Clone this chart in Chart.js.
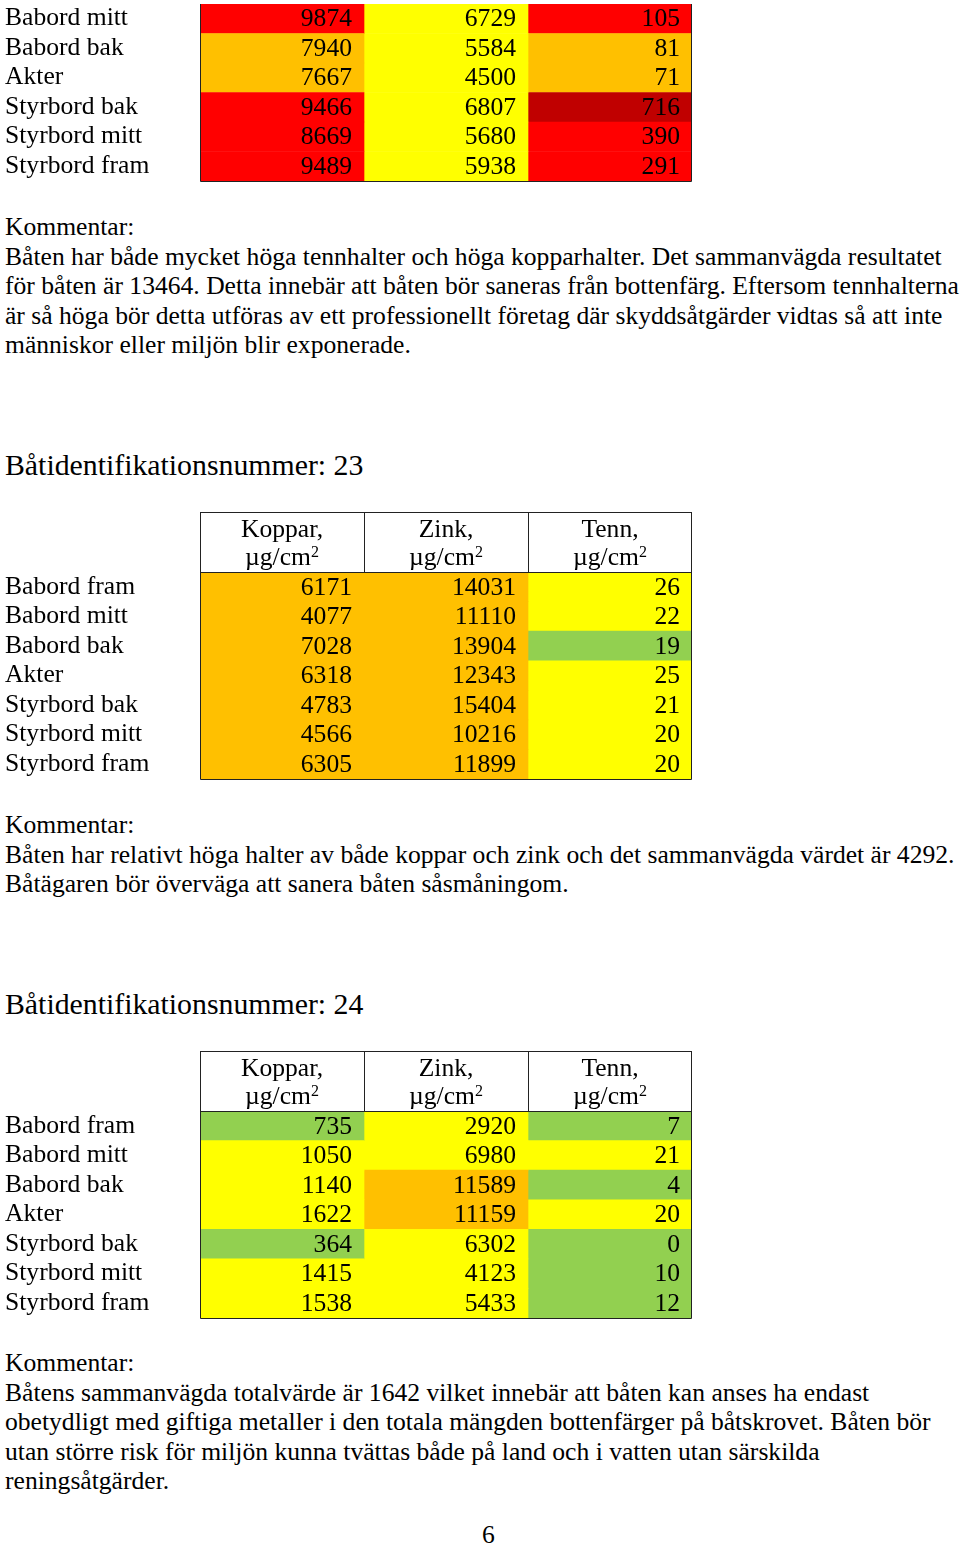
<!DOCTYPE html>
<html>
<head>
<meta charset="utf-8">
<script src="https://cdn.jsdelivr.net/npm/chart.js@4/dist/chart.umd.min.js"></script>
<style>
	body { margin: 0; background: #fff; width: 960px; height: 1547px; position: relative; overflow: hidden; font-family: 'Liberation Serif', 'Times New Roman', serif; color: #000; }
	.txt { position: absolute; left: 5px; font-size: 25.6px; line-height: 29.5px; white-space: nowrap; }
	.head { position: absolute; left: 5px; font-size: 29.8px; line-height: 34px; white-space: nowrap; }
	canvas { position: absolute; left: 0; }
</style>
</head>
<body>

<canvas id="tab22" width="700" height="183" style="top:0px"></canvas>
<div class="txt" style="top:212px">Kommentar:<br>Båten har både mycket höga tennhalter och höga kopparhalter. Det sammanvägda resultatet<br>för båten är 13464. Detta innebär att båten bör saneras från bottenfärg. Eftersom tennhalterna<br>är så höga bör detta utföras av ett professionellt företag där skyddsåtgärder vidtas så att inte<br>människor eller miljön blir exponerade.</div>

<div class="head" style="top:448px">Båtidentifikationsnummer: 23</div>
<canvas id="tab23" width="700" height="271" style="top:510px"></canvas>
<div class="txt" style="top:810px">Kommentar:<br>Båten har relativt höga halter av både koppar och zink och det sammanvägda värdet är 4292.<br>Båtägaren bör överväga att sanera båten såsmåningom.</div>

<div class="head" style="top:987px">Båtidentifikationsnummer: 24</div>
<canvas id="tab24" width="700" height="271" style="top:1049px"></canvas>
<div class="txt" style="top:1348px">Kommentar:<br>Båtens sammanvägda totalvärde är 1642 vilket innebär att båten kan anses ha endast<br>obetydligt med giftiga metaller i den totala mängden bottenfärger på båtskrovet. Båten bör<br>utan större risk för miljön kunna tvättas både på land och i vatten utan särskilda<br>reningsåtgärder.</div>

<div class="txt" style="top:1520px; left:482px">6</div>

<script>
// boat 22 (continued from previous page)
var rows22 = ['Babord mitt', 'Babord bak', 'Akter', 'Styrbord bak', 'Styrbord mitt', 'Styrbord fram'];
var koppar22 = [9874, 7940, 7667, 9466, 8669, 9489];
var zink22 = [6729, 5584, 4500, 6807, 5680, 5938];
var tenn22 = [105, 81, 71, 716, 390, 291];

// boats 23 and 24
var rows = ['Babord fram', 'Babord mitt', 'Babord bak', 'Akter', 'Styrbord bak', 'Styrbord mitt', 'Styrbord fram'];
var koppar23 = [6171, 4077, 7028, 6318, 4783, 4566, 6305];
var zink23 = [14031, 11110, 13904, 12343, 15404, 10216, 11899];
var tenn23 = [26, 22, 19, 25, 21, 20, 20];
var koppar24 = [735, 1050, 1140, 1622, 364, 1415, 1538];
var zink24 = [2920, 6980, 11589, 11159, 6302, 4123, 5433];
var tenn24 = [7, 21, 4, 20, 0, 10, 12];

var columns = ['Koppar,', 'Zink,', 'Tenn,'];
var unit = 'µg/cm';

// class limits per metal: green, yellow, orange, red, dark red above last
var limits = {
	koppar: [1000, 3000, 8000, 20000],
	zink: [2000, 10000, 20000, 40000],
	tenn: [20, 50, 100, 500]
};
var classColors = ['#92D050', '#FFFF00', '#FFC000', '#FF0000', '#C00000'];

var FONT = "'Liberation Serif', 'Times New Roman', serif";
var SIZE = 25.6;

function cellColor(metal, v) {
	var lim = limits[metal];
	for (var i = 0; i < lim.length; i++) {
		if (v < lim[i]) {
			return classColors[i];
		}
	}
	return classColors[lim.length];
}

var tablePlugin = {
	id: 'tablePlugin',
	afterDatasetsDraw: function(chart) {
		var ctx = chart.ctx;
		var xs = chart.scales.x;
		var area = chart.chartArea;
		var opts = chart.options.plugins.tablePlugin;

		// numbers, right aligned in each cell
		ctx.save();
		ctx.fillStyle = '#000';
		ctx.font = SIZE + 'px ' + FONT;
		ctx.textAlign = 'right';
		ctx.textBaseline = 'middle';
		chart.data.datasets.forEach(function(ds, i) {
			var meta = chart.getDatasetMeta(i);
			meta.data.forEach(function(bar, j) {
				ctx.fillText(String(ds.values[j]), bar.x - 12, bar.y + 1);
			});
		});

		// borders
		var left = xs.getPixelForValue(0);
		var right = xs.getPixelForValue(3);
		ctx.strokeStyle = '#222';
		ctx.lineWidth = 1;
		ctx.beginPath();
		if (opts.header) {
			var top = area.top - 60;
			ctx.moveTo(left + 0.5, top + 0.5);
			ctx.lineTo(right - 0.5, top + 0.5);
			ctx.moveTo(left + 0.5, area.top + 0.5);
			ctx.lineTo(right - 0.5, area.top + 0.5);
			for (var c = 1; c < 3; c++) {
				var cx = Math.round(xs.getPixelForValue(c)) + 0.5;
				ctx.moveTo(cx, top);
				ctx.lineTo(cx, area.top);
			}
			ctx.moveTo(left + 0.5, top);
		} else {
			ctx.moveTo(left + 0.5, area.top);
		}
		ctx.lineTo(left + 0.5, area.bottom + 0.5);
		ctx.lineTo(right - 0.5, area.bottom + 0.5);
		ctx.lineTo(right - 0.5, opts.header ? area.top - 60 : area.top);
		ctx.stroke();

		// header texts
		if (opts.header) {
			var t = area.top - 60;
			columns.forEach(function(name, c) {
				var mid = xs.getPixelForValue(c + 0.5);
				ctx.textBaseline = 'alphabetic';
				ctx.textAlign = 'center';
				ctx.font = SIZE + 'px ' + FONT;
				ctx.fillText(name, mid, t + 25);
				var w1 = ctx.measureText(unit).width;
				ctx.font = '16px ' + FONT;
				var w2 = ctx.measureText('2').width;
				var x0 = mid - (w1 + w2) / 2;
				ctx.textAlign = 'left';
				ctx.font = SIZE + 'px ' + FONT;
				ctx.fillText(unit, x0, t + 53);
				ctx.font = '16px ' + FONT;
				ctx.fillText('2', x0 + w1, t + 45);
			});
		}
		ctx.restore();
	}
};

function makeTable(id, rowNames, koppar, zink, tenn, header) {
	var sets = [['koppar', koppar], ['zink', zink], ['tenn', tenn]];
	var datasets = sets.map(function(s, c) {
		return {
			values: s[1],
			data: s[1].map(function() { return [c, c + 1]; }),
			backgroundColor: s[1].map(function(v) { return cellColor(s[0], v); }),
			borderWidth: 0,
			barPercentage: 1,
			categoryPercentage: 1,
			grouped: false
		};
	});
	return new Chart(document.getElementById(id), {
		type: 'bar',
		data: { labels: rowNames, datasets: datasets },
		plugins: [tablePlugin],
		options: {
			indexAxis: 'y',
			responsive: false,
			animation: false,
			events: [],
			layout: { padding: { left: 5, right: 8, top: header ? 62 : 4, bottom: 2 } },
			plugins: {
				legend: { display: false },
				tooltip: { enabled: false },
				tablePlugin: { header: header }
			},
			scales: {
				x: { display: false, min: 0, max: 3 },
				y: {
					grid: { display: false },
					border: { display: false },
					ticks: {
						autoSkip: false,
						crossAlign: 'far',
						padding: 0,
						color: '#000',
						font: { family: FONT, size: SIZE }
					},
					afterFit: function(s) {
						s.width = 195;
						s.paddingTop = 0;
						s.paddingBottom = 0;
					}
				}
			}
		}
	});
}

makeTable('tab22', rows22, koppar22, zink22, tenn22, false);
makeTable('tab23', rows, koppar23, zink23, tenn23, true);
makeTable('tab24', rows, koppar24, zink24, tenn24, true);
</script>
</body>
</html>
